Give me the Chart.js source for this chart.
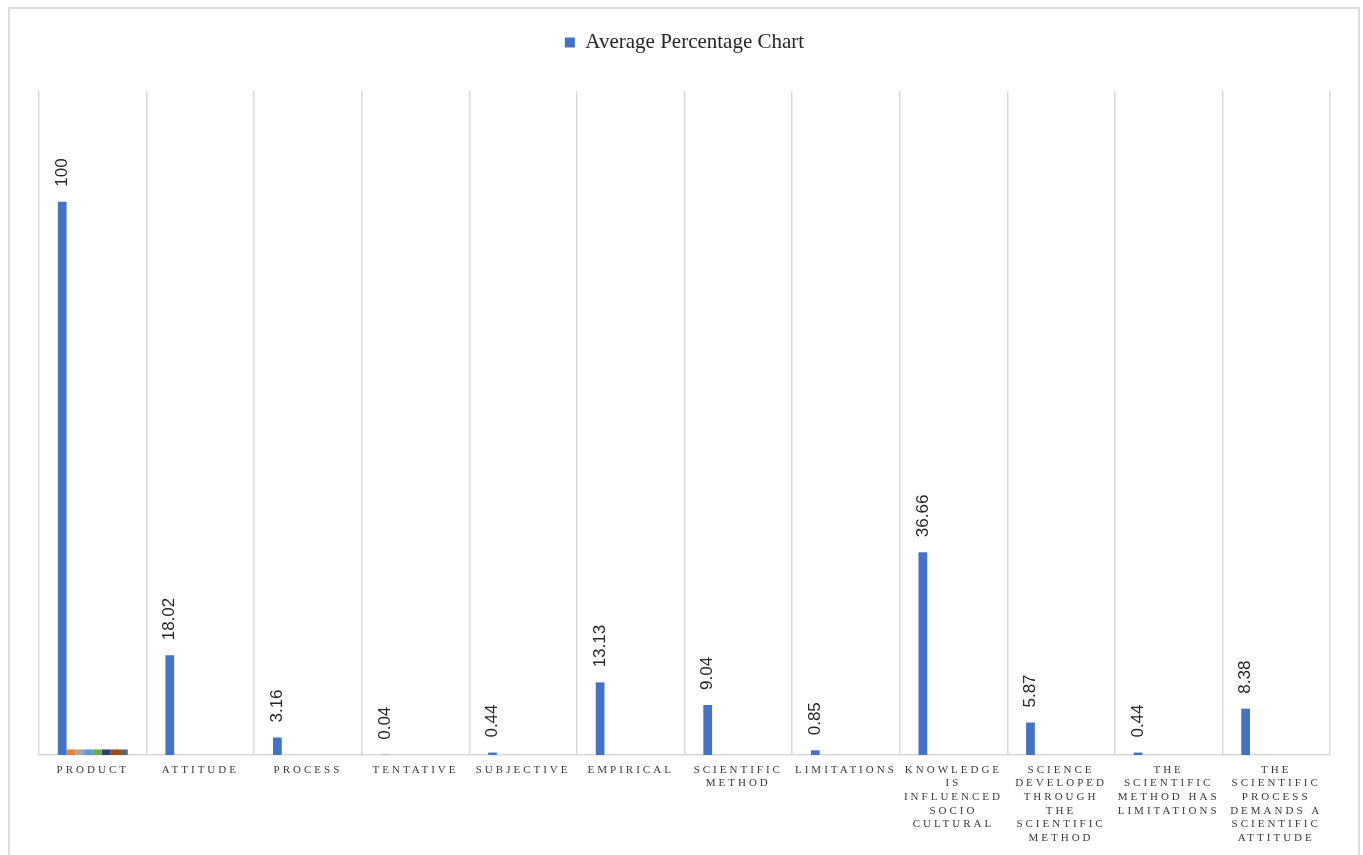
<!DOCTYPE html>
<html lang="en">
<head>
    <meta charset="UTF-8">
    <title>Average Percentage Chart</title>
    <script src="https://cdn.jsdelivr.net/npm/chart.js"></script>
    <style>
        body { margin: 0; background: #fff; }
        #frame { position: absolute; left: 8px; top: 7px; width: 1352px; height: 900px; border: 2px solid #dcdcdc; box-sizing: border-box; pointer-events: none; }
        #wrap { position: absolute; left: 0; top: 0; width: 1363px; height: 855px; }
    </style>
</head>
<body>
    <div id="wrap"><canvas id="chart"></canvas></div>
    <div id="frame"></div>

    <script>
        // categories (shown upper-case, wrapped as in the source)
        const categories = [
            ['PRODUCT'],
            ['ATTITUDE'],
            ['PROCESS'],
            ['TENTATIVE'],
            ['SUBJECTIVE'],
            ['EMPIRICAL'],
            ['SCIENTIFIC', 'METHOD'],
            ['LIMITATIONS'],
            ['KNOWLEDGE', 'IS', 'INFLUENCED', 'SOCIO', 'CULTURAL'],
            ['SCIENCE', 'DEVELOPED', 'THROUGH', 'THE', 'SCIENTIFIC', 'METHOD'],
            ['THE', 'SCIENTIFIC', 'METHOD HAS', 'LIMITATIONS'],
            ['THE', 'SCIENTIFIC', 'PROCESS', 'DEMANDS A', 'SCIENTIFIC', 'ATTITUDE']
        ];

        const averagePercentage = [100, 18.02, 3.16, 0.04, 0.44, 13.13, 9.04, 0.85, 36.66, 5.87, 0.44, 8.38];

        // the small unnamed series that only show up under "Product"
        const series2 = [1, 0, 0, 0, 0, 0, 0, 0, 0, 0, 0, 0];
        const series3 = [1, 0, 0, 0, 0, 0, 0, 0, 0, 0, 0, 0];
        const series4 = [1, 0, 0, 0, 0, 0, 0, 0, 0, 0, 0, 0];
        const series5 = [1, 0, 0, 0, 0, 0, 0, 0, 0, 0, 0, 0];
        const series6 = [1, 0, 0, 0, 0, 0, 0, 0, 0, 0, 0, 0];
        const series7 = [1, 0, 0, 0, 0, 0, 0, 0, 0, 0, 0, 0];
        const series8 = [1, 0, 0, 0, 0, 0, 0, 0, 0, 0, 0, 0];

        const extraSeries = [series2, series3, series4, series5, series6, series7, series8];
        const extraColors = ['#ED7D31', '#A5A5A5', '#5B9BD5', '#70AD47', '#264478', '#9E480E', '#636363'];

        const datasets = [{
            label: 'Average Percentage Chart',
            data: averagePercentage,
            backgroundColor: '#4472C4'
        }];
        extraSeries.forEach((s, i) => {
            datasets.push({ label: 'Series' + (i + 2), data: s, backgroundColor: extraColors[i] });
        });

        // rotated value labels above the blue bars
        const valueLabels = {
            id: 'valueLabels',
            afterDatasetsDraw(chart) {
                const ctx = chart.ctx;
                const meta = chart.getDatasetMeta(0);
                ctx.save();
                ctx.font = '17px "Liberation Sans", Arial, sans-serif';
                ctx.fillStyle = '#262626';
                ctx.textAlign = 'left';
                ctx.textBaseline = 'middle';
                meta.data.forEach((bar, i) => {
                    ctx.save();
                    ctx.translate(bar.x, bar.y - 15);
                    ctx.rotate(-Math.PI / 2);
                    ctx.fillText(String(averagePercentage[i]), 0, 0);
                    ctx.restore();
                });
                ctx.restore();
            }
        };

        // spaced-out capitals on the category axis, taller legend block
        const layoutTweaks = {
            id: 'layoutTweaks',
            beforeUpdate(chart) {
                const lg = chart.legend;
                if (lg && !lg._tweaked) {
                    const fit = lg.fit;
                    lg.fit = function () {
                        fit.call(this);
                        this.height = 85;
                    };
                    lg._tweaked = true;
                }
            },
            beforeDraw(chart) {
                const xs = chart.scales.x;
                if (xs._spaced) return;
                const orig = xs.drawLabels;
                xs.drawLabels = function (area) {
                    this.ctx.save();
                    this.ctx.letterSpacing = '3px';
                    orig.call(this, area);
                    this.ctx.restore();
                };
                xs._spaced = true;
            }
        };

        new Chart(document.getElementById('chart'), {
            type: 'bar',
            data: { labels: categories, datasets: datasets },
            options: {
                responsive: true,
                maintainAspectRatio: false,
                animation: false,
                categoryPercentage: 0.65,
                barPercentage: 1,
                layout: { padding: { top: 6, left: 39, right: 33, bottom: 0 } },
                plugins: {
                    legend: {
                        position: 'top',
                        labels: {
                            boxWidth: 10,
                            boxHeight: 10,
                            padding: 26,
                            color: '#262626',
                            font: { family: '"Liberation Serif", "DejaVu Serif", serif', size: 21 },
                            filter: item => item.datasetIndex === 0
                        }
                    },
                    tooltip: { enabled: false }
                },
                scales: {
                    x: {
                        grid: { display: true, color: '#d9d9d9', lineWidth: 1.5, drawTicks: false },
                        border: { display: true, color: '#d9d9d9', width: 1.5 },
                        ticks: {
                            autoSkip: false,
                            maxRotation: 0,
                            minRotation: 0,
                            padding: 8,
                            color: '#3a3a3a',
                            font: { family: '"Liberation Serif", "DejaVu Serif", serif', size: 11, lineHeight: 1.24 }
                        },
                        afterFit(scale) { scale.height = 100; }
                    },
                    y: {
                        display: false,
                        min: 0,
                        max: 120
                    }
                }
            },
            plugins: [valueLabels, layoutTweaks]
        });
    </script>
</body>
</html>
